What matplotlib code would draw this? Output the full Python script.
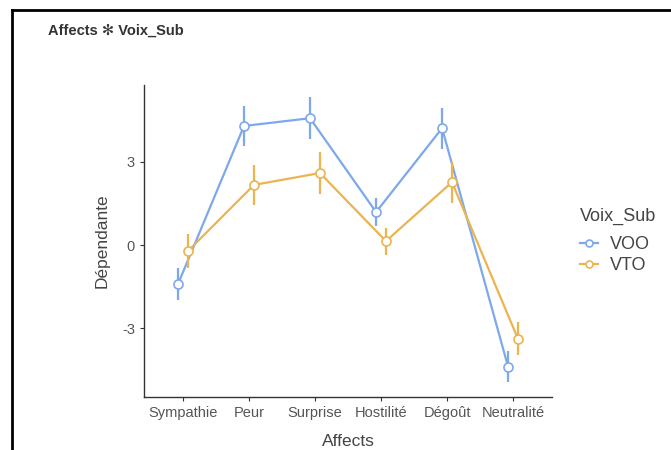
import matplotlib
matplotlib.use("Agg")
import matplotlib.pyplot as plt
import numpy as np

plt.rcParams["font.family"] = ["Liberation Sans", "DejaVu Sans"]

affects = ["Sympathie", "Peur", "Surprise", "Hostilité", "Dégoût", "Neutralité"]
voo_mean = [-1.41, 4.30, 4.58, 1.19, 4.22, -4.40]
voo_err = [0.58, 0.72, 0.76, 0.50, 0.74, 0.56]
vto_mean = [-0.22, 2.17, 2.60, 0.14, 2.27, -3.39]
vto_err = [0.60, 0.72, 0.77, 0.49, 0.74, 0.60]
y_ticks = [-3, 0, 3]

blue = "#7EA8EC"
orange = "#EBB450"
dodge = 0.075

fig = plt.figure(figsize=(6.71, 4.5), dpi=100)

# window frame lines (top and left)
fig.add_artist(plt.Line2D([12 / 671, 1], [1 - 9.5 / 450] * 2, color="black", lw=2.0))
fig.add_artist(plt.Line2D([12 / 671] * 2, [0, 1 - 9.5 / 450], color="black", lw=2.0))

fig.text(48 / 671, 1 - 31 / 450, "Affects \u273b Voix_Sub", fontsize=10.5,
         fontweight="bold", color="#333333", va="center",
         family=["Liberation Sans", "DejaVu Sans"])

ax = fig.add_axes([144 / 671, 1 - 397 / 450, (552 - 144) / 671, (397 - 85) / 450])
x = np.arange(1, len(affects) + 1)

for means, errs, col, off, name in [(voo_mean, voo_err, blue, -dodge, "VOO"),
                                     (vto_mean, vto_err, orange, dodge, "VTO")]:
    ax.errorbar(x + off, means, yerr=errs, fmt="none", ecolor=col, elinewidth=1.6, capsize=0)
    ax.plot(x + off, means, color=col, lw=1.6, marker="o", markersize=6.5,
            markerfacecolor="white", markeredgecolor=col, markeredgewidth=1.2, label=name)

ax.set_xlim(0.41, 6.59)
ax.set_ylim(-5.49, 5.78)
ax.set_xticks(x)
ax.set_xticklabels(affects)
ax.set_yticks(y_ticks)
ax.set_yticklabels([str(t) for t in y_ticks])
for s in ["top", "right"]:
    ax.spines[s].set_visible(False)
for s in ["left", "bottom"]:
    ax.spines[s].set_color("#333333")
    ax.spines[s].set_linewidth(1.0)
ax.tick_params(axis="both", colors="#333333", labelcolor="#555555", labelsize=10.5, length=3)
ax.set_xlabel("Affects", fontsize=12.5, color="#444444", labelpad=10)
ax.set_ylabel("Dépendante", fontsize=12.5, color="#444444", labelpad=9)

leg = ax.legend(loc="center left", bbox_to_anchor=(1.028, 0.50), frameon=False,
                title="Voix_Sub", fontsize=13, title_fontsize=13,
                handlelength=1.0, handletextpad=0.7, labelspacing=0.25,
                alignment="left")
leg._legend_box.sep = 8
leg.get_title().set_color("#444444")
for t in leg.get_texts():
    t.set_color("#444444")
for h in leg.legend_handles:
    h.set_markersize(5)

fig.savefig("out.png", dpi=100)
